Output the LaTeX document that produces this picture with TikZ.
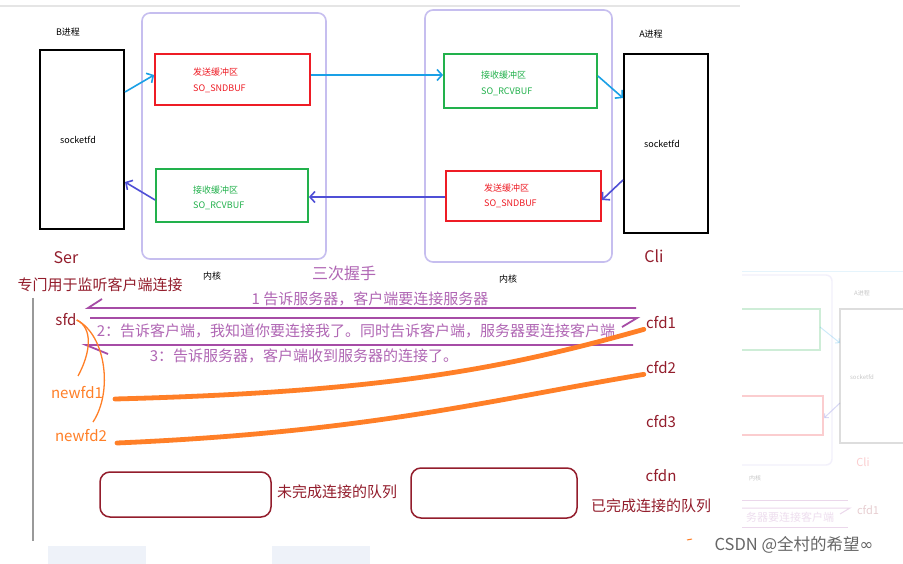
\documentclass[tikz,border=0pt]{standalone}
\usepackage{fontspec}
\newfontfamily\cjk{Noto Sans CJK SC}
\newfontfamily\dvs{DejaVu Sans}
\usetikzlibrary{arrows.meta}

\definecolor{kernc}{HTML}{C6BEEF}
\definecolor{bufred}{HTML}{EE1C25}
\definecolor{bufgreen}{HTML}{22B14C}
\definecolor{skyarr}{HTML}{1AA0E6}
\definecolor{indarr}{HTML}{4F4FD6}
\definecolor{darkred}{HTML}{931D2C}
\definecolor{hand}{HTML}{A64CA6}
\definecolor{handtxt}{HTML}{B066B4}
\definecolor{orng}{HTML}{FF7F27}
\definecolor{faintblue}{HTML}{EEF2F9}

\tikzset{
  kern/.style={draw=kernc, line width=1.6pt, rounded corners=8pt, inner sep=0pt},
  buf/.style={line width=1.8pt, inner sep=0pt},
  proc/.style={draw=black, line width=2pt, inner sep=0pt, minimum width=84pt, minimum height=179pt},
  small/.style={font=\cjk\fontsize{9}{10}\selectfont, inner sep=0pt},
  lbl/.style={small, anchor=west},
  big/.style={font=\cjk\fontsize{15}{17}\selectfont, inner sep=0pt},
  arr/.style={line width=1.6pt, -{Straight Barb[length=5pt,width=11pt,line width=1.6pt]}},
  handline/.style={draw=hand, line width=1.8pt},
  thin/.style={draw=orng, line width=1.3pt},
  thick/.style={draw=orng, line width=4.8pt, line cap=round},
  queue/.style={draw=darkred, line width=1.5pt, rounded corners=10pt, inner sep=0pt},
  ghost/.style={opacity=0.22}
}

\begin{document}
\begin{tikzpicture}[x=1pt,y=-1pt]
\useasboundingbox (0,0) rectangle (903,564);
\fill[white] (0,0) rectangle (903,564);

% header rule
\draw[draw=black!10, line width=2.5pt] (0,6) -- (740,6);

% ---------- socket buffers ----------
\node[kern, minimum width=184pt, minimum height=246pt] (kernL) at (234,136) {};
\node[kern, minimum width=187pt, minimum height=252pt] (kernR) at (518.5,136) {};

\node[proc] (bproc) at (82,139.5) {};
\node[proc] (aproc) at (666,143.5) {};
\node[small] (bname) at (68,32) {B进程};
\node[small] (aname) at (651,34) {A进程};
\node[small] (bsock) at (78,140) {socketfd};
\node[small] (asock) at (662,144) {socketfd};

\node[buf, draw=bufred, minimum width=155pt, minimum height=51pt] (sndL) at (232.5,79.5) {};
\node[buf, draw=bufgreen, minimum width=152pt, minimum height=53pt] (rcvL) at (232,195.5) {};
\node[buf, draw=bufgreen, minimum width=153pt, minimum height=54pt] (rcvR) at (520.5,81) {};
\node[buf, draw=bufred, minimum width=155pt, minimum height=50pt] (sndR) at (523.5,196) {};

\node[lbl, text=bufred] (sndLa) at (193,72) {发送缓冲区};
\node[lbl, text=bufred] (sndLb) at (193,89) {SO\_SNDBUF};
\node[lbl, text=bufgreen] (rcvLa) at (193,190) {接收缓冲区};
\node[lbl, text=bufgreen] (rcvLb) at (193,206) {SO\_RCVBUF};
\node[lbl, text=bufgreen] (rcvRa) at (481,75) {接收缓冲区};
\node[lbl, text=bufgreen] (rcvRb) at (481,92) {SO\_RCVBUF};
\node[lbl, text=bufred] (sndRa) at (484,188) {发送缓冲区};
\node[lbl, text=bufred] (sndRb) at (484,204) {SO\_SNDBUF};

\node[small] (kernLt) at (212,276) {内核};
\node[small] (kernRt) at (508,279) {内核};

\draw[arr, skyarr] ([yshift=47.5pt]bproc.east) -- ([yshift=4.5pt]sndL.west);
\draw[arr, skyarr] ([yshift=4.5pt]sndL.east) -- ([yshift=6pt]rcvR.west);
\draw[arr, skyarr] ([yshift=5pt]rcvR.east) -- ([yshift=45.5pt]aproc.west);
\draw[arr, indarr] ([yshift=-36.5pt]aproc.west) -- ([yshift=-4pt]sndR.east);
\draw[arr, indarr] ([yshift=-1pt]sndR.west) -- ([yshift=-1.5pt]rcvL.east);
\draw[arr, indarr] ([yshift=-4.5pt]rcvL.west) -- ([yshift=-42.5pt]bproc.east);

\node[big, text=darkred, font=\cjk\fontsize{16}{18}\selectfont] (ser) at (66,258) {Ser};
\node[big, text=darkred, font=\cjk\fontsize{16}{18}\selectfont] (cli) at (654,256) {Cli};
\node[big, text=darkred] (listen) at (100,285) {专门用于监听客户端连接};
\node[big, text=handtxt, font=\cjk\fontsize{16}{18}\selectfont] (three) at (344,273) {三次握手};

% ---------- three-way handshake ----------
\draw[draw=black!40, line width=1.5pt] (33,298) -- (33,541);

\coordinate (h1a) at (636,308); \coordinate (h1b) at (88,308);
\coordinate (h2a) at (90,318);  \coordinate (h2b) at (637,318);
\coordinate (h3a) at (633,345); \coordinate (h3b) at (86,345);
\draw[handline] (h1a) -- (h1b) -- ++(14,-9);
\draw[handline] (h2a) -- (h2b) -- ++(-15,9);
\draw[handline] (h3a) -- (h3b) -- ++(22,9);

\node[big, text=handtxt] (msg1) at (370,299) {1 告诉服务器，客户端要连接服务器};
\node[big, text=handtxt] (msg2) at (356,331) {2：告诉客户端，我知道你要连接我了。同时告诉客户端，服务器要连接客户端};
\node[big, text=handtxt] (msg3) at (304,356) {3：告诉服务器，客户端收到服务器的连接了。};

\node[big, text=darkred] (sfd) at (66,320) {sfd};
\node[big, text=orng] (nfd1) at (77,393) {newfd1};
\node[big, text=orng] (nfd2) at (81,436) {newfd2};

\node[big, text=darkred] (cfd1) at (661,323) {cfd1};
\node[big, text=darkred] (cfd2) at (661,368) {cfd2};
\node[big, text=darkred] (cfd3) at (661,422) {cfd3};
\node[big, text=darkred] (cfdn) at (661,476) {cfdn};

\coordinate (nfd1top) at (78,376);
\coordinate (nfd2top) at (93,422);
\draw[thin] (sfd.east) .. controls (93,328) and (91,352) .. (nfd1top);
\draw[thin] (sfd.east) .. controls (106,335) and (113,392) .. (nfd2top);

\coordinate (c1s) at (115,399);
\coordinate (c2s) at (117,443);
\draw[thick] (c1s) .. controls (380,392) and (500,370) .. ([xshift=-2pt]cfd1.south west);
\draw[thick] (c2s) .. controls (370,432) and (490,400) .. ([xshift=-2pt]cfd2.south west);

% ---------- connection queues ----------
\node[queue, minimum width=171pt, minimum height=45pt] (pendq) at (185.5,494.5) {};
\node[queue, minimum width=166pt, minimum height=50pt] (doneq) at (494,493) {};
\node[big, text=darkred] (pendt) at (337,492) {未完成连接的队列};
\node[big, text=darkred] (donet) at (651,506) {已完成连接的队列};

% ---------- faded copy at the right edge ----------
\begin{scope}[ghost]
  \clip (742,262) rectangle (903,535);
  \draw[draw=skyarr!50, line width=1pt] (742,272) -- (903,272);
  \draw[draw=kernc, line width=1.4pt, rounded corners=6pt] (700,275) rectangle (832,465);
  \draw[draw=bufgreen, line width=1.2pt] (700,309) rectangle (820,350);
  \draw[draw=bufred, line width=1.2pt] (700,396) rectangle (823,435);
  \draw[draw=black!60, line width=1.4pt] (840,309) rectangle (910,443);
  \draw[skyarr, line width=1pt, -{Straight Barb[length=3pt,width=6pt]}] (820,327) -- (840,343);
  \draw[indarr, line width=1pt, -{Straight Barb[length=3pt,width=6pt]}] (840,403) -- (824,418);
  \node[small, font=\cjk\fontsize{6}{7}\selectfont] (gA) at (862,293) {A进程};
  \node[small, font=\cjk\fontsize{6}{7}\selectfont] (gS) at (862,377) {socketfd};
  \node[big, text=bufred, font=\cjk\fontsize{11}{12}\selectfont] (gC) at (863,462) {Cli};
  \node[small, font=\cjk\fontsize{6}{7}\selectfont] (gK) at (755,478) {内核};
  \draw[handline, line width=1pt] (742,500) -- (848,500);
  \draw[handline, line width=1pt] (742,508) -- (850,508) -- ++(-10,6);
  \draw[handline, line width=1pt] (742,527) -- (848,527);
  \node[big, text=handtxt, font=\cjk\fontsize{11}{12}\selectfont] (gM) at (790,517) {务器要连接客户端};
  \node[big, text=darkred, font=\cjk\fontsize{11}{12}\selectfont] (gF) at (868,510) {cfd1};
\end{scope}
\fill[faintblue] (48,546) rectangle (146,564);
\fill[faintblue] (272,546) rectangle (370,564);

% watermark
\draw[draw=orng, line width=1pt] (687,540) -- (692,539);
\node[big, text=black!60, font=\cjk\fontsize{16.5}{18}\selectfont] (wm) at (794,545) {CSDN @全村的希望{\dvs ∞}};
\end{tikzpicture}
\end{document}
